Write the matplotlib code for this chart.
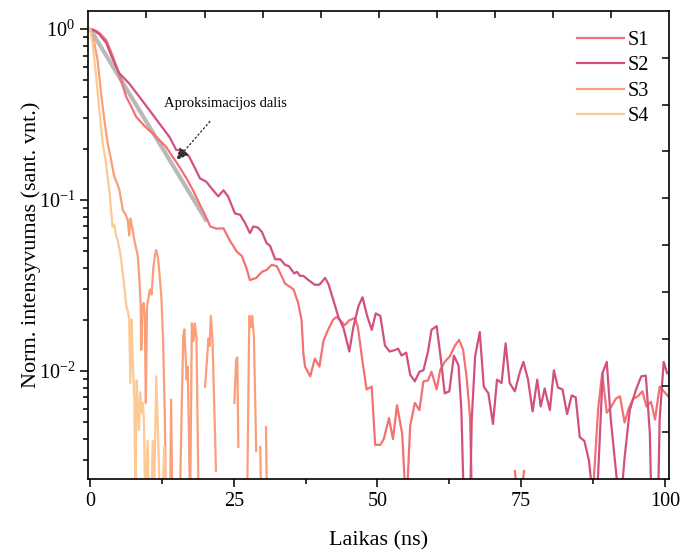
import numpy as np
import matplotlib
matplotlib.use("Agg")
import matplotlib.pyplot as plt
from matplotlib.ticker import MultipleLocator, LogLocator, NullFormatter

plt.rcParams['font.family'] = ['Liberation Serif', 'DejaVu Serif']
plt.rcParams['mathtext.fontset'] = 'custom'
plt.rcParams['mathtext.rm'] = 'Liberation Serif'
plt.rcParams['mathtext.it'] = 'Liberation Serif:italic'

nan = np.nan

# S1
t1 = [0, 0.8, 1.6, 2.8, 3.9, 5.1, 6.3, 7.2, 8.0, 9.5, 10.9, 12.0, 13.2, 14.3, 15.5,
      16.7, 17.9, 19.1, 20.2, 20.9, 22.0, 23.2, 24.3, 25.5, 26.4, 27.2, 27.8, 28.9,
      29.9, 30.7, 31.6, 32.5, 33.3, 33.9, 35.4, 36.2, 36.8, 37.1, 37.4, 38.3, 39.1,
      39.9, 40.6, 41.4, 42.3, 42.9, 43.5, 44.3, 45.1, 46.1, 46.6, 47.3, 48.1, 49.0,
      49.6, 50.5, 51.1, 52.0, 52.7, 53.4, 54.3, 55.0, 55.7, 56.5, 57.3, 58.0, 58.8,
      59.4, 60.3, 60.9, 61.7, 62.6, 63.5, 64.2, 64.9, 65.5, 66.1, 66.5, 67.0,
      73.9, 74.2, 74.5, 75.2, 75.5, 76.0,
      87.3, 88.4, 89.1, 89.9, 90.7, 91.5, 92.2, 93.0, 93.7, 94.5, 95.3, 96.1, 96.8,
      97.6, 98.3, 99.1, 100.6]
v1 = [1.0, 0.985, 0.95, 0.86, 0.70, 0.535, 0.40, 0.35, 0.307, 0.27, 0.245, 0.225,
      0.205, 0.18, 0.157, 0.135, 0.114, 0.094, 0.079, 0.070, 0.068, 0.0683, 0.058,
      0.050, 0.047, 0.040, 0.034, 0.035, 0.038, 0.039, 0.0418, 0.041, 0.036, 0.0325,
      0.030, 0.025, 0.0198, 0.0127, 0.0106, 0.0093, 0.0118, 0.0106, 0.015, 0.0174,
      0.020, 0.0207, 0.0198, 0.0185, 0.0198, 0.0204, 0.018, 0.012, 0.0078, 0.0081,
      0.0037, 0.0037, 0.0040, 0.0053, 0.0040, 0.0063, 0.0043, 0.0015, 0.0048, 0.0065,
      0.0059, 0.0087, 0.0088, 0.0099, 0.0078, 0.0101, 0.0113, 0.0122, 0.0141, 0.0152,
      0.0133, 0.0093, 0.0054, 0.0015, nan,
      0.0026, 0.0021, nan, 0.0021, 0.0026, nan,
      0.0015, 0.0060, 0.0097, 0.0057, 0.0062, 0.0069, 0.0071, 0.0050, 0.0060, 0.0069,
      0.0071, 0.0076, 0.0062, 0.0066, 0.0052, 0.0081, 0.0071]

# S2
t2 = [0, 0.8, 1.6, 2.8, 3.9, 5.1, 6.8, 8.6, 10.3, 12.05, 13.8, 15.0, 16.1, 17.2, 18.4,
      19.1, 20.2, 21.4, 22.3, 23.2, 24.0, 25.2, 26.1, 27.0, 27.8, 28.4, 29.2, 29.9,
      30.7, 31.3, 32.2, 33.1, 33.9, 34.6, 35.5, 36.0, 36.5, 37.1, 38.0, 39.1, 39.9,
      40.9, 41.5, 42.3, 43.2, 44.1, 45.1, 45.8, 46.7, 47.4, 48.2, 49.0, 49.7, 50.5,
      51.3, 52.1, 52.9, 53.6, 54.2, 55.0, 55.7, 56.5, 57.3, 58.0, 58.8, 59.4, 60.3,
      61.0, 61.7, 62.5, 63.3, 64.1, 64.6, 65.2, 66.0, 66.4, 67.0, 67.8, 68.5, 69.3,
      70.1, 70.8, 71.6, 72.3, 73.0, 73.9, 74.8, 75.4, 76.2, 77.0, 77.8, 78.4, 79.1,
      80.0, 80.7, 81.4, 82.2, 83.0, 83.8, 84.5, 85.2, 86.0, 86.8, 87.1, 87.6, 88.4,
      89.2, 89.9, 90.6, 91.5, 92.2, 93.0, 93.9, 95.0, 95.9, 96.7, 97.4, 97.8, 98.7,
      99.1, 99.8, 100.4]
v2 = [1.0, 0.975, 0.93, 0.83, 0.67, 0.55, 0.48, 0.40, 0.336, 0.28, 0.234, 0.196,
      0.196, 0.18, 0.15, 0.134, 0.128, 0.114, 0.105, 0.114, 0.105, 0.0834, 0.082,
      0.073, 0.064, 0.070, 0.069, 0.065, 0.056, 0.054, 0.045, 0.045, 0.0418, 0.041,
      0.0372, 0.038, 0.036, 0.036, 0.034, 0.0319, 0.032, 0.035, 0.032, 0.0261,
      0.0207, 0.0178, 0.013, 0.018, 0.024, 0.027, 0.021, 0.0174, 0.0217, 0.021,
      0.0141, 0.013, 0.0132, 0.0135, 0.0123, 0.0128, 0.0095, 0.0087, 0.0099, 0.0101,
      0.013, 0.0174, 0.0183, 0.012, 0.0074, 0.0076, 0.0123, 0.0108, 0.0059, 0.001,
      0.001, 0.0052, 0.0122, 0.0169, 0.0081, 0.0074, 0.0049, 0.0089, 0.0085, 0.0145,
      0.0085, 0.0076, 0.0099, 0.0113, 0.0089, 0.0058, 0.0089, 0.0062, 0.0079, 0.0059,
      0.0101, 0.008, 0.0078, 0.0056, 0.0072, 0.0070, 0.0041, 0.0039, 0.0030, 0.0024,
      0.001, 0.0025, 0.0098, 0.0113, 0.0052, 0.0026, 0.0015, 0.0031, 0.0059, 0.0078,
      0.0093, 0.0094, 0.0043, 0.001, 0.001, 0.0052, 0.0113, 0.0097]

# S3
t3 = [0, 0.75, 1.3, 1.9, 2.5, 3.1, 3.6, 4.2, 4.7, 5.1, 5.7, 6.2, 6.55, 6.8, 7.0, 7.3,
      7.7, 8.3, 8.6, 8.8, 8.9, 9.1, 9.3, 9.5, 9.7, 9.9, 10.1, 10.4, 10.7, 11.0, 11.3,
      11.5, 11.8, 12.1, 12.4, 12.7, 13.0, 13.2, 13.5, 13.9, 14.1, 14.3, 15.6, 15.9,
      16.2, 16.4, 16.8, 17.0, 17.4, 17.7, 18.0, 18.2, 18.5, 18.9, 19.2,
      20.0, 20.6, 20.8, 21.0, 21.3, 21.9, 22.2,
      25.1, 25.4, 25.6, 25.8, 26.0,
      27.3, 27.7, 28.0, 28.2, 28.5, 28.9, 29.2,
      29.6, 29.8, 30.2, 30.6, 30.8]
v3 = [1.0, 0.82, 0.66, 0.42, 0.29, 0.21, 0.175, 0.137, 0.125, 0.114, 0.087, 0.082,
      0.076, 0.062, 0.078, 0.070, 0.058, 0.047, 0.033, 0.024, 0.0133, 0.024, 0.025,
      0.021, 0.0065, 0.024, 0.026, 0.030, 0.028, 0.040, 0.048, 0.051, 0.046, 0.036,
      0.027, 0.015, 0.0054, 0.0015, 0.0015, 0.0015, 0.0068, 0.0015, 0.0015, 0.0054,
      0.016, 0.0175, 0.0089, 0.0106, 0.0015, 0.019, 0.015, 0.019, 0.016, 0.0015, nan,
      0.0081, 0.0155, 0.014, 0.021, 0.015, 0.0026, nan,
      0.0065, 0.0116, 0.012, 0.0036, nan,
      0.0015, 0.021, 0.018, 0.021, 0.016, 0.0034, nan,
      0.0036, 0.0015, nan, 0.0047, 0.0015]

# S4
t4 = [0, 0.45, 1.05, 1.6, 2.2, 2.7, 3.4, 3.9, 4.2, 4.5, 4.8, 5.2, 5.7, 6.0, 6.3, 6.6,
      6.8, 7.0, 7.2, 7.4, 7.7, 7.9, 8.1, 8.3, 8.5, 8.7, 9.0, 9.2, 9.4, 9.6, 10.0,
      10.3, 10.6, 10.9, 11.1, 11.5, 11.8, 12.2, 12.5, 12.9, 13.2]
v4 = [1.0, 0.82, 0.53, 0.336, 0.214, 0.17, 0.109, 0.07, 0.072, 0.062, 0.058, 0.05,
      0.037, 0.030, 0.024, 0.022, 0.020, 0.0085, 0.020, 0.012, 0.0068, 0.0015,
      0.0088, 0.006, 0.0045, 0.0075, 0.0057, 0.0065, 0.0045, 0.0015, 0.0039, 0.0015,
      0.0015, 0.0039, 0.0015, 0.0093, 0.0045, 0.0015, 0.0015, 0.0036, 0.0015]

# approximation (fit) segment
fit_t = [0, 20.3]
fit_v = [1.0, 0.075]

labels = ['S1', 'S2', 'S3', 'S4']
colors = ['#f37172', '#d2507e', '#fa9f79', '#fdc994']

fig = plt.figure(figsize=(6.8, 5.52), dpi=100)
ax = fig.add_axes([0.130, 0.132, 0.854, 0.848])

ax.plot(fit_t, fit_v, color='#808080', lw=3.0, alpha=0.55, solid_capstyle='butt', zorder=1)
for t, v, lab, c in zip([t1, t2, t3, t4], [v1, v2, v3, v4], labels, colors):
    ax.plot(t, v, color=c, lw=1.6, label=lab, zorder=2)

ax.set_yscale('log')
ax.set_xlim(-0.3, 100.75)
ax.set_ylim(0.00233, 1.274)

ax.xaxis.set_major_locator(MultipleLocator(25))
ax.xaxis.set_minor_locator(MultipleLocator(12.5))
ax.yaxis.set_major_locator(LogLocator(base=10))
ax.yaxis.set_minor_locator(LogLocator(base=10, subs=np.arange(2, 10)))
ax.yaxis.set_minor_formatter(NullFormatter())
ax.tick_params(which='both', direction='out', top=False, right=False, width=1.1,
               labelsize=14.5)
ax.tick_params(which='major', length=6)
ax.tick_params(which='minor', length=3.5)
for s in ax.spines.values():
    s.set_linewidth(1.2)

ax.set_xlabel('Laikas (ns)', fontsize=16, labelpad=14.5)
ax.set_ylabel('Norm. intensyvumas (sant. vnt.)', fontsize=16)
ax.yaxis.set_label_coords(-0.082, 0.5)

ax.annotate('Aproksimacijos dalis', xy=(15.0, 0.171), xytext=(23.5, 0.365),
            fontsize=10.5, ha='center', va='center',
            arrowprops=dict(arrowstyle='-|>', linestyle=(0, (1, 2)), color='#333333',
                            lw=1.0, shrinkA=8, shrinkB=0, mutation_scale=18))

leg = ax.legend(loc='upper right', frameon=False, fontsize=14.5, handlelength=2.3,
                handletextpad=0.2, labelspacing=0.3, borderaxespad=0.6)

# top / right ticks (evenly spaced, inward)
ax2 = fig.add_axes(ax.get_position(), frameon=False)
ax2.set_xlim(0, 10)
ax2.set_ylim(0, 10)
ax2.set_xticks(np.arange(1, 10))
ax2.set_yticks(np.arange(1, 10))
ax2.tick_params(direction='in', top=True, right=True, bottom=False, left=False,
                labeltop=False, labelbottom=False, labelleft=False, labelright=False,
                length=5, width=1.1)
ax2.patch.set_visible(False)

fig.savefig('out.png', dpi=100)
